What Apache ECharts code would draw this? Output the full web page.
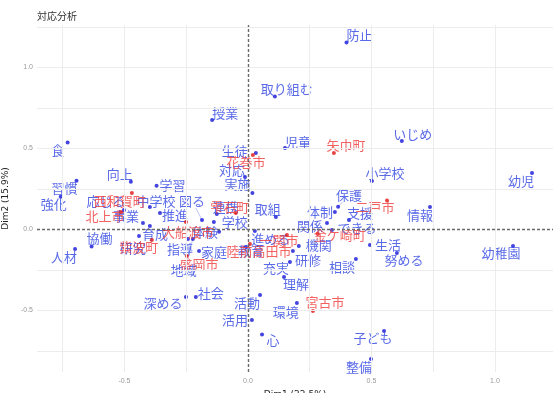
<!DOCTYPE html>
<html>
<head>
<meta charset="utf-8">
<script src="https://cdn.jsdelivr.net/npm/echarts@6/dist/echarts.min.js"></script>
<style>
  html, body { margin: 0; padding: 0; background: #fff; }
  #chart { width: 553px; height: 393px; }
</style>
</head>
<body>
<div id="chart"></div>
<script>
// Column profiles (words) on the first two dimensions
const wordNames = ['防止','取り組む','授業','食','習慣','強化','人材','協働','向上','学習',
  '応じる','中学校','事業','推進','図る','育成','研究','体験','指導','地域',
  '家庭','学校','連携','実施','取組','対応','生徒','児童','進める','教育',
  '充実','理解','研修','機関','関係','体制','保護','支援','できる','生活',
  '情報','努める','相談','幼稚園','幼児','いじめ','小学校','環境','子ども','整備',
  '心','活用','活動','社会','深める'];
const wordDim1 = [0.399, 0.109, -0.145, -0.730, -0.694, -0.758, -0.700, -0.633, -0.474, -0.370,
  -0.502, -0.397, -0.425, -0.356, -0.186, -0.397, -0.441, -0.117, -0.243, -0.223,
  -0.198, -0.138, -0.126, 0.018, 0.113, -0.012, 0.032, 0.150, 0.028, -0.008,
  0.170, 0.146, 0.182, 0.206, 0.320, 0.352, 0.365, 0.409, 0.340, 0.494,
  0.737, 0.603, 0.437, 1.073, 1.150, 0.623, 0.502, 0.198, 0.551, 0.498,
  0.057, 0.016, 0.049, -0.211, -0.251];
const wordDim2 = [1.154, 0.820, 0.676, 0.536, 0.301, 0.202, -0.120, -0.106, 0.295, 0.269,
  0.120, 0.139, 0.040, 0.102, 0.059, 0.022, -0.040, -0.015, -0.059, -0.059,
  -0.133, 0.046, 0.096, 0.225, 0.077, 0.324, 0.472, 0.503, -0.009, -0.108,
  -0.201, -0.293, -0.133, -0.102, 0.040, 0.108, 0.140, 0.059, -0.003, -0.096,
  0.139, -0.145, -0.182, -0.102, 0.349, 0.546, 0.299, -0.454, -0.627, -0.799,
  -0.648, -0.559, -0.404, -0.417, -0.417];

// Row profiles (municipalities)
const cityNames = ['矢巾町','花巻市','西和賀町','北上市','大船渡市','紫波町','雫石町',
  '盛岡市','陸前高田市','一関市','金ケ崎町','二戸市','宮古市'];
const cityDim1 = [0.348, 0.020, -0.470, -0.514, -0.251, -0.389, -0.049,
  -0.247, 0.008, 0.158, 0.283, 0.563, 0.263];
const cityDim2 = [0.472, 0.460, 0.225, 0.108, 0.046, -0.065, 0.102,
  -0.164, -0.090, -0.034, -0.028, 0.179, -0.503];

// Axis tick labels and grid positions
const xTickValues = [-0.5, 0.0, 0.5, 1.0];
const yTickValues = [-0.5, 0.0, 0.5, 1.0];
const xGridValues = [-0.75, -0.5, -0.25, 0.25, 0.5, 0.75, 1.0];
const yGridValues = [-0.75, -0.5, -0.25, 0.25, 0.5, 0.75, 1.0, 1.25];

// Repelled label placement (pixel shift of each label from its point)
const labelShift = {
  '防止':[13,-7],'取り組む':[12,-8],'授業':[13,-7],'食':[-10,7],'習慣':[-12,7],'強化':[-7,7],
  '人材':[-11,8],'協働':[8,-9],'向上':[-11,-8],'学習':[16,-1],'応じる':[-18,-9],'中学校':[6,-6],
  '事業':[-17,-7],'推進':[15,2],'図る':[-10,-19],'育成':[5,8],'研究':[-6,12],'体験':[-14,0],
  '指導':[-8,10],'地域':[-9,31],'家庭':[15,1],'学校':[21,0],'連携':[9,-7],'実施':[-15,-9],
  '取組':[-8,-8],'対応':[-13,-7],'生徒':[-21,-2],'児童':[13,-6],'進める':[16,8],'教育':[5,4],
  '充実':[-14,6],'理解':[12,7],'研修':[15,9],'機関':[20,-1],'関係':[-17,3],'体制':[-15,0],
  '保護':[11,-12],'支援':[11,-7],'できる':[25,-2],'生活':[18,0],'情報':[-10,8],'努める':[7,7],
  '相談':[-14,8],'幼稚園':[-12,7],'幼児':[-11,8],'いじめ':[11,-7],'小学校':[13,-8],'環境':[-11,9],
  '子ども':[-11,7],'整備':[-12,8],'心':[11,6],'活用':[-17,0],'活動':[-13,8],'社会':[15,-4],
  '深める':[-23,6],
  '矢巾町':[12,-8],'花巻市':[-7,7],'西和賀町':[-12,8],'北上市':[-16,4],'大船渡市':[2,10],
  '紫波町':[-13,7],'雫石町':[-6,-6],'盛岡市':[12,8],'陸前高田市':[9,7],'一関市':[-8,5],
  '金ケ崎町':[22,1],'二戸市':[-12,7],'宮古市':[12,-9]
};
// Labels pushed far enough from their point to get a leader segment
const segmentWords = ['図る', '地域', '保護', '連携'];

const FONT = '"Noto Sans CJK JP", "Noto Sans", sans-serif';
const CHAR_W = 13, HALF_H = 7;

function buildPoints(names, d1, d2) {
  return names.map((n, i) => ({
    name: n,
    value: [d1[i], d2[i]],
    label: { offset: labelShift[n] || [0, 0] }
  }));
}

const segmentData = segmentWords.map(n => {
  const i = wordNames.indexOf(n);
  return { name: n, value: [wordDim1[i], wordDim2[i]] };
});

const chart = echarts.init(document.getElementById('chart'), null, { renderer: 'canvas' });

const axisLabelStyle = { color: '#9a9a9a', fontSize: 7, fontFamily: 'Liberation Sans, sans-serif' };

chart.setOption({
  animation: false,
  backgroundColor: '#ffffff',
  grid: { left: 37, right: 0, top: 25, bottom: 21, containLabel: false, outerBoundsMode: 'none' },
  graphic: [{
    type: 'text', left: 37, top: 11,
    style: { text: '対応分析', fontSize: 10, fill: '#333', fontFamily: FONT }
  }],
  xAxis: {
    type: 'value', min: -0.854, max: 1.235,
    name: 'Dim1 (22.5%)', nameLocation: 'middle', nameGap: 18,
    nameTextStyle: { fontSize: 9, color: '#222', fontFamily: 'DejaVu Sans, sans-serif' },
    axisLine: { show: false },
    splitLine: { show: false },
    axisTick: { show: true, length: 3, lineStyle: { color: '#aaa' }, customValues: xTickValues },
    axisLabel: Object.assign({ margin: 6, customValues: xTickValues,
      formatter: v => v.toFixed(1) }, axisLabelStyle)
  },
  yAxis: {
    type: 'value', min: -0.880, max: 1.262,
    name: 'Dim2 (15.9%)', nameLocation: 'middle', nameGap: 22,
    nameTextStyle: { fontSize: 9, color: '#222', fontFamily: 'DejaVu Sans, sans-serif' },
    axisLine: { show: false },
    splitLine: { show: false },
    axisTick: { show: true, length: 2, lineStyle: { color: '#aaa' }, customValues: yTickValues },
    axisLabel: Object.assign({ margin: 4, customValues: yTickValues,
      formatter: v => v.toFixed(1) }, axisLabelStyle)
  },
  series: [
    {
      // panel grid lines
      type: 'line', data: [], silent: true, z: 0,
      markLine: {
        silent: true, symbol: 'none', animation: false,
        label: { show: false },
        lineStyle: { color: '#ececec', width: 1, type: 'solid' },
        data: xGridValues.map(v => ({ xAxis: v })).concat(yGridValues.map(v => ({ yAxis: v })))
      }
    },
    {
      // dashed reference lines through the origin
      type: 'line', data: [], silent: true, z: 1,
      markLine: {
        silent: true, symbol: 'none', animation: false,
        label: { show: false },
        lineStyle: { color: '#6a6a6a', width: 1.4, type: [3, 2] },
        data: [{ xAxis: 0 }, { yAxis: 0 }]
      }
    },
    {
      // leader segments from a point to the edge of its displaced label
      type: 'custom', silent: true, z: 2,
      data: segmentData,
      renderItem: function (params, api) {
        const name = segmentData[params.dataIndex].name;
        const p = api.coord([api.value(0), api.value(1)]);
        const s = labelShift[name];
        const halfW = name.length * CHAR_W / 2;
        const t = Math.min(halfW / Math.max(Math.abs(s[0]), 1e-6), HALF_H / Math.max(Math.abs(s[1]), 1e-6), 1);
        const end = [p[0] + s[0] * (1 - t), p[1] + s[1] * (1 - t)];
        return {
          type: 'line',
          shape: { x1: p[0], y1: p[1], x2: end[0], y2: end[1] },
          style: { stroke: 'rgba(70,90,220,0.45)', lineWidth: 0.8 }
        };
      }
    },
    {
      name: 'words', type: 'scatter', z: 3,
      symbol: 'circle', symbolSize: 4,
      itemStyle: { color: '#1414d8' },
      label: {
        show: true, position: 'inside', formatter: '{b}',
        align: 'center', verticalAlign: 'middle',
        fontSize: 13, color: '#2f45e2', fontFamily: FONT
      },
      data: buildPoints(wordNames, wordDim1, wordDim2)
    },
    {
      name: 'cities', type: 'scatter', z: 4,
      symbol: 'circle', symbolSize: 4,
      itemStyle: { color: '#e01414' },
      label: {
        show: true, position: 'inside', formatter: '{b}',
        align: 'center', verticalAlign: 'middle',
        fontSize: 13, color: '#f03a3a', fontFamily: FONT
      },
      data: buildPoints(cityNames, cityDim1, cityDim2)
    }
  ]
});
</script>
</body>
</html>
